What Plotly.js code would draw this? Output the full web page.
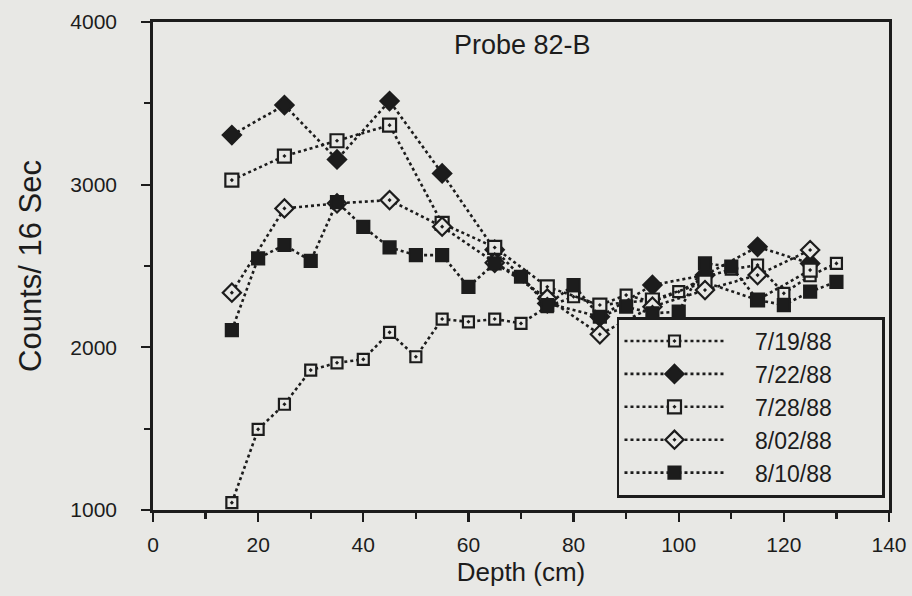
<!DOCTYPE html>
<html>
<head>
<meta charset="utf-8">
<script src="https://cdn.plot.ly/plotly-3.0.1.min.js"></script>
<style>html,body{margin:0;padding:0;background:#e8e8e5;}</style>
</head>
<body>
<div id="chart" style="width:912px;height:596px;"></div>
<script>
// Depth (cm)
const depth5 = [15,20,25,30,35,40,45,50,55,60,65,70,75,80,85,90,95,100,105,110,115,120,125,130];
const depth10 = [15,25,35,45,55,65,75,85,95,105,115,125];

// Counts / 16 sec
const c0719 = [1045,1496,1650,1860,1905,1926,2092,1942,2174,2157,2174,2147,2250,2311,2260,2321,2280,2342,2430,2480,2506,2332,2440,2516];
const c0722 = [3305,3489,3155,3514,3069,2600,2270,2188,2383,2444,2618,2516];
const c0728 = [3028,3176,3270,3366,2762,2614,2372,2260,2291,2400,2291,2475];
const c0802 = [2336,2854,2885,2905,2742,2520,2300,2080,2250,2352,2444,2598];
const c0810 = [2106,2547,2629,2532,2893,2741,2614,2567,2567,2372,2516,2434,2260,2383,2188,2250,2209,2219,2516,2496,2291,2260,2342,2403];

const names = ['7/19/88','7/22/88','7/28/88','8/02/88','8/10/88'];

const ink = '#1c1c1c';
const bg = '#e8e8e5';
const line = {color:ink, width:2.6, dash:'dot'};
const padL = '\u00a0\u00a0\u00a0\u00a0';
const padR = '\u00a0\u00a0\u00a0\u00a0\u00a0\u00a0\u00a0';
function tr(x, y, name, symbol, fill, size){
  return {x:x, y:y, name:padL + name + padR, type:'scatter', mode:'lines+markers', line:line,
    marker:{symbol:symbol, color:fill, size:size, line:{color:ink, width:2.2}}};
}
const data = [
  tr(depth5, c0719, names[0], 'square-dot', bg, 11),
  tr(depth10, c0722, names[1], 'diamond', ink, 14),
  tr(depth10, c0728, names[2], 'square-dot', bg, 13),
  tr(depth10, c0802, names[3], 'diamond-dot', bg, 14),
  tr(depth5, c0810, names[4], 'square', ink, 12)
];

const fam = 'Liberation Sans, Arial, Helvetica, sans-serif';
function f(size){ return {family:fam, size:size, color:ink}; }
const layout = {
  width:912, height:596,
  paper_bgcolor:bg, plot_bgcolor:bg,
  margin:{l:153, r:23, t:22, b:86},
  showlegend:true,
  font:f(20),
  xaxis:{range:[0,140], dtick:20, tick0:0, ticks:'outside', ticklen:9, tickwidth:2.2, tickcolor:ink,
    minor:{dtick:10, ticks:'outside', ticklen:6, tickwidth:2.2, tickcolor:ink},
    showline:true, linecolor:ink, linewidth:2.8, mirror:true, showgrid:false, zeroline:false,
    tickfont:f(21), ticklabelstandoff:5,
    title:{text:'Depth (cm)', font:f(26), standoff:8}},
  yaxis:{range:[1000,4000], dtick:1000, tick0:1000, ticks:'outside', ticklen:9, tickwidth:2.2, tickcolor:ink,
    minor:{dtick:500, ticks:'outside', ticklen:6, tickwidth:2.2, tickcolor:ink},
    showline:true, linecolor:ink, linewidth:2.8, mirror:true, showgrid:false, zeroline:false,
    tickfont:f(21), ticklabelstandoff:20,
    title:{text:'Counts/ 16 Sec', font:f(31), standoff:20}},
  legend:{x:0.630, y:0.396, xanchor:'left', yanchor:'top', bgcolor:bg, bordercolor:ink, borderwidth:2.8,
    font:f(23), itemwidth:100, tracegroupgap:0},
  annotations:[{text:'Probe 82-B', xref:'paper', yref:'paper', x:0.406, y:0.953, xanchor:'left', yanchor:'middle',
    showarrow:false, font:f(27)}]
};
Plotly.newPlot('chart', data, layout, {displayModeBar:false, staticPlot:true});
</script>
</body>
</html>
